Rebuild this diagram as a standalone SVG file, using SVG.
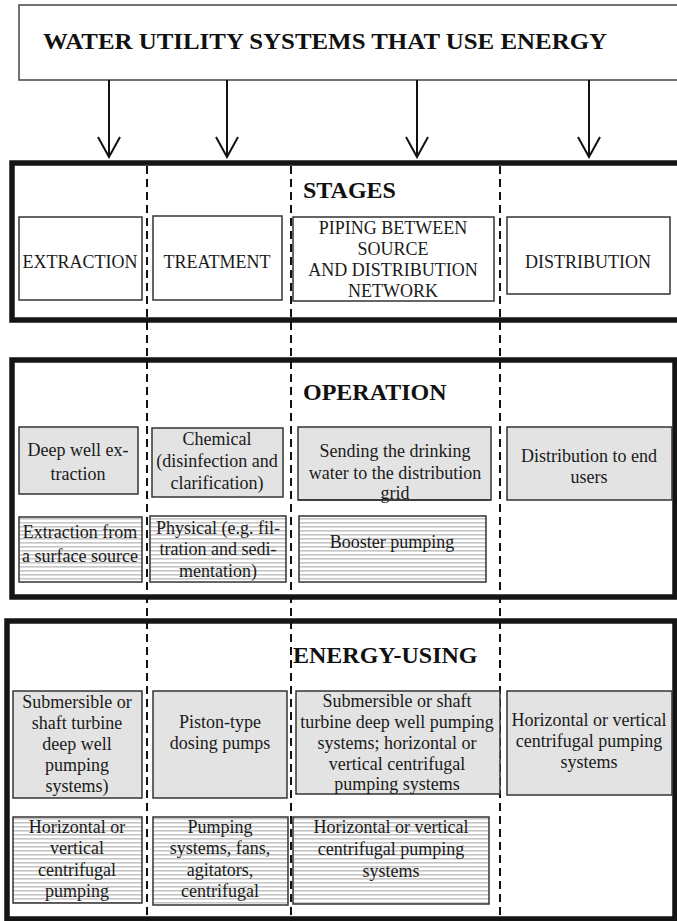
<svg xmlns="http://www.w3.org/2000/svg" width="677" height="921" viewBox="0 0 677 921">
<defs>
<style>
.t{font-family:"Liberation Serif","Times New Roman",serif;font-size:18px;fill:#1a1a1a;text-anchor:middle}
.h{font-family:"Liberation Serif","Times New Roman",serif;font-weight:bold;font-size:24px;fill:#111}
.sec{fill:none;stroke:#151515;stroke-width:5.5}
.box{fill:#fff;stroke:#333;stroke-width:1.5}
.gray{fill:#e3e3e3;stroke:#333;stroke-width:1.5}
.hat{fill:url(#hatch);stroke:#333;stroke-width:1.5}
.dash{stroke:#111;stroke-width:2;stroke-dasharray:8 5;fill:none}
.arr{stroke:#111;stroke-width:2;fill:none;marker-end:url(#vhead)}
</style>
<pattern id="hatch" width="8" height="4" patternUnits="userSpaceOnUse">
<rect width="8" height="4" fill="#fff"/>
<rect y="2" width="8" height="1.6" fill="#c6c6c6"/>
</pattern>
<marker id="vhead" viewBox="0 0 24 24" refX="22" refY="12" markerWidth="24" markerHeight="24" markerUnits="userSpaceOnUse" orient="auto">
<path d="M2,1 L22,12 L2,23" fill="none" stroke="#111" stroke-width="2"/>
</marker>
</defs>

<g id="title">
<rect x="19" y="5" width="700" height="75" fill="#fff" stroke="#444" stroke-width="1.5"/>
<text x="43" y="49" class="h" font-size="24.5" textLength="564" lengthAdjust="spacingAndGlyphs">WATER UTILITY SYSTEMS THAT USE ENERGY</text>
</g>

<g id="sections">
<rect class="sec" x="12" y="163" width="720" height="157"/>
<rect class="sec" x="12" y="360" width="663" height="237"/>
<rect class="sec" x="7" y="621" width="668" height="298"/>
</g>

<g id="connectors">
<line class="arr" x1="109" y1="80" x2="109" y2="157"/>
<line class="arr" x1="227" y1="80" x2="227" y2="157"/>
<line class="arr" x1="417" y1="80" x2="417" y2="157"/>
<line class="arr" x1="589" y1="80" x2="589" y2="157"/>
<line class="dash" x1="147" y1="166" x2="147" y2="921"/>
<line class="dash" x1="291" y1="166" x2="291" y2="921"/>
<line class="dash" x1="500" y1="166" x2="500" y2="921"/>
</g>

<g id="stages">
<text class="h" x="303" y="198">STAGES</text>
</g>
<g id="extraction">
<rect class="box" x="19" y="217" width="123" height="83"/>
<text class="t" x="80" y="268">EXTRACTION</text>
</g>
<g id="treatment">
<rect class="box" x="153" y="216" width="129" height="84"/>
<text class="t" x="217" y="268">TREATMENT</text>
</g>
<g id="piping">
<rect class="box" x="293" y="217" width="201" height="84"/>
<text class="t" x="393" y="234">PIPING BETWEEN</text>
<text class="t" x="393" y="255">SOURCE</text>
<text class="t" x="393" y="276">AND DISTRIBUTION</text>
<text class="t" x="393" y="297">NETWORK</text>
</g>
<g id="distribution">
<rect class="box" x="507" y="217" width="163" height="77"/>
<text class="t" x="588" y="268">DISTRIBUTION</text>
</g>

<g id="operation">
<text class="h" x="303" y="400">OPERATION</text>
</g>
<g id="op-deepwell">
<rect class="gray" x="19" y="427" width="119" height="67"/>
<text class="t" x="78" y="456">Deep well ex-</text>
<text class="t" x="78" y="480">traction</text>
</g>
<g id="op-chemical">
<rect class="gray" x="152" y="428" width="131" height="69"/>
<text class="t" x="217" y="445">Chemical</text>
<text class="t" x="217" y="467">(disinfection and</text>
<text class="t" x="217" y="489">clarification)</text>
</g>
<g id="op-sending">
<rect class="gray" x="298" y="427" width="193" height="73"/>
<text class="t" x="395" y="457">Sending the drinking</text>
<text class="t" x="395" y="479">water to the distribution</text>
<text class="t" x="395" y="499">grid</text>
<line x1="298" y1="500" x2="491" y2="500" stroke="#333" stroke-width="1.5"/>
</g>
<g id="op-distribution">
<rect class="gray" x="507" y="427" width="165" height="73"/>
<text class="t" x="589" y="462">Distribution to end</text>
<text class="t" x="589" y="483">users</text>
</g>
<g id="op-surface">
<rect class="hat" x="19" y="517" width="123" height="65"/>
<text class="t" x="80" y="538">Extraction from</text>
<text class="t" x="80" y="562">a surface source</text>
</g>
<g id="op-physical">
<rect class="hat" x="150" y="516" width="136" height="66"/>
<text class="t" x="218" y="534">Physical (e.g. fil-</text>
<text class="t" x="218" y="555">tration and sedi-</text>
<text class="t" x="218" y="577">mentation)</text>
</g>
<g id="op-booster">
<rect class="hat" x="299" y="516" width="187" height="66"/>
<text class="t" x="392" y="548">Booster pumping</text>
</g>

<g id="energy">
<text class="h" x="293" y="663">ENERGY-USING</text>
</g>
<g id="en-submersible">
<rect class="gray" x="13" y="691" width="129" height="107"/>
<text class="t" x="77" y="708">Submersible or</text>
<text class="t" x="77" y="729">shaft turbine</text>
<text class="t" x="77" y="750">deep well</text>
<text class="t" x="77" y="771">pumping</text>
<text class="t" x="77" y="792">systems)</text>
</g>
<g id="en-piston">
<rect class="gray" x="153" y="691" width="134" height="107"/>
<text class="t" x="220" y="728">Piston-type</text>
<text class="t" x="220" y="749">dosing pumps</text>
</g>
<g id="en-mixed">
<rect class="gray" x="296" y="691" width="204" height="103"/>
<text class="t" x="397" y="707">Submersible or shaft</text>
<text class="t" x="397" y="728">turbine deep well pumping</text>
<text class="t" x="397" y="749">systems; horizontal or</text>
<text class="t" x="397" y="770">vertical centrifugal</text>
<text class="t" x="397" y="790">pumping systems</text>
</g>
<g id="en-distribution">
<rect class="gray" x="507" y="691" width="165" height="104"/>
<text class="t" x="589" y="726">Horizontal or vertical</text>
<text class="t" x="589" y="747">centrifugal pumping</text>
<text class="t" x="589" y="768">systems</text>
</g>
<g id="en-horizontal1">
<rect class="hat" x="13" y="817" width="129" height="86"/>
<text class="t" x="77" y="833">Horizontal or</text>
<text class="t" x="77" y="854">vertical</text>
<text class="t" x="77" y="876">centrifugal</text>
<text class="t" x="77" y="897">pumping</text>
</g>
<g id="en-pumping">
<rect class="hat" x="153" y="817" width="135" height="88"/>
<text class="t" x="220" y="833">Pumping</text>
<text class="t" x="220" y="854">systems, fans,</text>
<text class="t" x="220" y="876">agitators,</text>
<text class="t" x="220" y="897">centrifugal</text>
</g>
<g id="en-horizontal2">
<rect class="hat" x="293" y="817" width="196" height="87"/>
<text class="t" x="391" y="833">Horizontal or vertical</text>
<text class="t" x="391" y="855">centrifugal pumping</text>
<text class="t" x="391" y="877">systems</text>
</g>
</svg>
